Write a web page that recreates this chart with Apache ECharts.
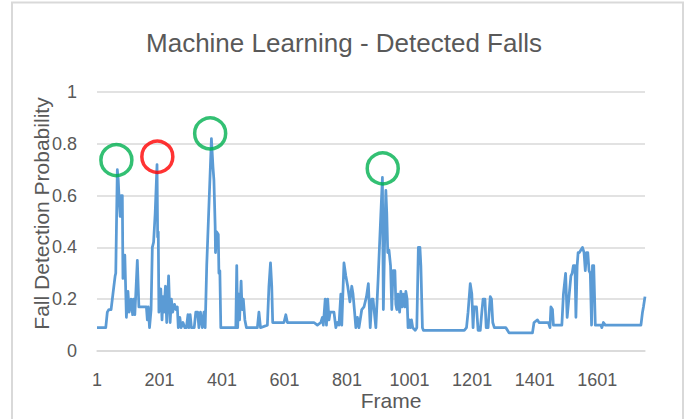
<!DOCTYPE html>
<html>
<head>
<meta charset="utf-8">
<script src="https://cdn.jsdelivr.net/npm/echarts@6/dist/echarts.min.js"></script>
<style>
  html, body { margin: 0; padding: 0; background: #fff; }
  #main { width: 688px; height: 419px; }
</style>
</head>
<body>
<div id="main"></div>
<script>
// frame index (0 based, frame = idx + 1) and detection probability
const frameIdx = [
  0, 28, 33, 38, 45, 51, 58, 60, 65, 68, 71, 74, 77, 81, 83, 85, 89, 94, 99, 103,
  109, 114, 117, 121, 129, 134, 158, 161, 164, 168, 173, 177, 181, 186, 192, 194, 196, 198, 204, 208,
  211, 214, 219, 223, 229, 234, 238, 242, 248, 253, 257, 260, 265, 269, 275, 281, 286, 291, 294, 298,
  302, 311, 316, 322, 326, 331, 337, 342, 346, 351, 366, 371, 374, 378, 379, 383, 388, 390, 393, 396,
  444, 447, 450, 453, 456, 461, 464, 468, 473, 478, 513, 518, 523, 545, 550, 555, 559, 562, 598, 604,
  609, 694, 705, 716, 721, 724, 730, 734, 738, 742, 746, 758, 764, 769, 774, 780, 783, 790, 796, 802,
  809, 815, 819, 824, 828, 833, 838, 847, 854, 862, 868, 874, 879, 883, 892, 899, 908, 913, 916, 921,
  924, 927, 930, 934, 939, 943, 947, 953, 956, 959, 963, 968, 972, 976, 980, 985, 988, 992, 995, 999,
  1002, 1006, 1010, 1018, 1023, 1028, 1033, 1036, 1041, 1044, 1175, 1182, 1187, 1194, 1199, 1203, 1206, 1214, 1219, 1226,
  1231, 1235, 1241, 1245, 1251, 1258, 1262, 1266, 1271, 1308, 1313, 1318, 1393, 1398, 1409, 1414, 1444, 1449, 1452, 1457,
  1460, 1487, 1492, 1499, 1504, 1510, 1516, 1520, 1524, 1529, 1532, 1536, 1539, 1543, 1548, 1553, 1558, 1562, 1566, 1570,
  1574, 1578, 1582, 1585, 1589, 1594, 1612, 1615, 1620, 1626, 1740, 1745, 1748, 1753
];
const prob = [
  0.09, 0.09, 0.15, 0.16, 0.16, 0.22, 0.29, 0.30, 0.70, 0.66, 0.58, 0.52, 0.60, 0.60, 0.28, 0.29, 0.37, 0.13, 0.23, 0.15,
  0.20, 0.14, 0.20, 0.14, 0.35, 0.17, 0.17, 0.12, 0.17, 0.09, 0.16, 0.40, 0.42, 0.53, 0.72, 0.44, 0.46, 0.15, 0.24, 0.12,
  0.21, 0.15, 0.25, 0.11, 0.29, 0.11, 0.20, 0.15, 0.18, 0.16, 0.17, 0.09, 0.13, 0.09, 0.11, 0.09, 0.09, 0.14, 0.09, 0.14,
  0.09, 0.09, 0.15, 0.15, 0.09, 0.15, 0.09, 0.15, 0.09, 0.33, 0.82, 0.71, 0.66, 0.48, 0.38, 0.46, 0.45, 0.30, 0.31, 0.09,
  0.09, 0.33, 0.09, 0.22, 0.12, 0.27, 0.16, 0.20, 0.12, 0.09, 0.09, 0.15, 0.09, 0.10, 0.25, 0.34, 0.25, 0.11, 0.11, 0.14,
  0.11, 0.11, 0.10, 0.11, 0.13, 0.10, 0.20, 0.10, 0.20, 0.12, 0.15, 0.15, 0.09, 0.11, 0.10, 0.22, 0.10, 0.34, 0.29, 0.25,
  0.19, 0.25, 0.22, 0.15, 0.09, 0.13, 0.09, 0.16, 0.17, 0.21, 0.26, 0.09, 0.20, 0.20, 0.09, 0.27, 0.53, 0.67, 0.16, 0.48,
  0.62, 0.53, 0.38, 0.39, 0.33, 0.16, 0.31, 0.31, 0.18, 0.16, 0.22, 0.15, 0.23, 0.17, 0.22, 0.17, 0.23, 0.20, 0.09, 0.12,
  0.09, 0.12, 0.09, 0.08, 0.09, 0.40, 0.40, 0.33, 0.09, 0.08, 0.08, 0.09, 0.15, 0.26, 0.22, 0.09, 0.17, 0.17, 0.08, 0.08,
  0.15, 0.20, 0.20, 0.09, 0.09, 0.21, 0.20, 0.11, 0.09, 0.09, 0.08, 0.07, 0.07, 0.11, 0.12, 0.11, 0.11, 0.09, 0.17, 0.16,
  0.10, 0.10, 0.22, 0.30, 0.13, 0.21, 0.29, 0.30, 0.33, 0.33, 0.13, 0.33, 0.38, 0.38, 0.39, 0.40, 0.38, 0.31, 0.38, 0.38,
  0.31, 0.30, 0.10, 0.33, 0.33, 0.10, 0.10, 0.09, 0.11, 0.10, 0.10, 0.15, 0.17, 0.21
];
const xTicks = ['1', '201', '401', '601', '801', '1001', '1201', '1401', '1601'];

// hand drawn rings round the peaks
const ringIdx = [62, 193, 362, 914];
const ringProb = [0.737, 0.75, 0.84, 0.705];
const ringColor = ['#00B050', '#FF0000', '#00B050', '#00B050'];

const font = 'Liberation Sans';
const grey = '#595959';

let chart = echarts.init(document.getElementById('main'), null, {renderer: 'svg'});

let option = {
  animation: false,
  backgroundColor: '#fff',
  textStyle: {fontFamily: font},
  title: {
    text: 'Machine Learning - Detected Falls',
    left: 'center',
    top: 25,
    textStyle: {fontFamily: font, fontSize: 26, fontWeight: 'normal', color: grey}
  },
  graphic: [{
    type: 'rect',
    shape: {x: 12, y: 2.5, width: 671, height: 430},
    style: {fill: 'none', stroke: '#D9D9D9', lineWidth: 2},
    silent: true
  }],
  grid: {left: 97, right: 43, top: 92, bottom: 68, outerBoundsMode: 'none'},
  xAxis: {
    type: 'value',
    min: 0,
    max: 1753,
    interval: 200,
    name: 'Frame',
    nameLocation: 'middle',
    nameGap: 39,
    nameMoveOverlap: false,
    nameTextStyle: {fontFamily: font, fontSize: 21, color: grey, padding: [0, 0, 0, 40]},
    axisLine: {show: true, lineStyle: {color: '#D9D9D9', width: 1.5}},
    axisTick: {show: false},
    splitLine: {show: false},
    axisLabel: {
      margin: 20,
      fontFamily: font,
      fontSize: 18,
      color: grey,
      showMaxLabel: false,
      formatter: v => xTicks[v / 200] || ''
    }
  },
  yAxis: {
    type: 'value',
    min: 0,
    max: 1,
    interval: 0.2,
    name: 'Fall Detection Probability',
    nameLocation: 'middle',
    nameGap: 45,
    nameMoveOverlap: false,
    nameRotate: 90,
    nameTextStyle: {fontFamily: font, fontSize: 21, color: grey, padding: [0, 0, 0, 16]},
    axisLine: {show: false},
    axisTick: {show: false},
    axisLabel: {margin: 20, fontFamily: font, fontSize: 18, color: grey},
    splitLine: {lineStyle: {color: '#D9D9D9', width: 1.5}}
  },
  series: [
    {
      type: 'line',
      data: frameIdx.map((x, i) => [x, prob[i]]),
      showSymbol: false,
      lineStyle: {color: '#5B9BD5', width: 2.75, join: 'round'},
      z: 2
    },
    {
      type: 'scatter',
      data: ringIdx.map((x, i) => ({
        value: [x, ringProb[i]],
        itemStyle: {color: 'rgba(0,0,0,0)', borderColor: ringColor[i], borderWidth: 3.5}
      })),
      symbol: 'circle',
      symbolSize: 31,
      z: 3
    }
  ]
};

chart.setOption(option);
</script>
</body>
</html>
